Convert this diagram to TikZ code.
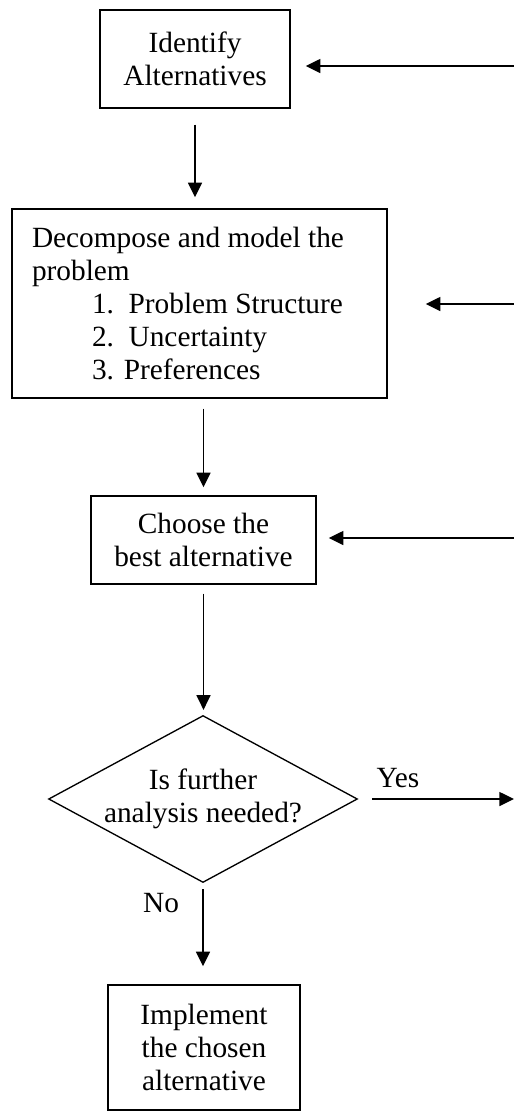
\documentclass[tikz,border=0pt]{standalone}
\usepackage{fontspec}
\setmainfont{Liberation Serif}
\usetikzlibrary{shapes.geometric,arrows.meta}
\begin{document}
\begin{tikzpicture}
    [%%%%%%%%%%%%%%%%%%%%%%%%%%%%%%
        x=0.75pt, y=-0.75pt,
        box/.style={rectangle, draw=black, line width=1.1pt, align=center, inner sep=0pt,
            font=\fontsize{22pt}{24.75pt}\selectfont},
        decision/.style={diamond, draw=black, line width=1pt, shape aspect=1.85, inner sep=0pt,
            align=center, font=\fontsize{22pt}{24.75pt}\selectfont},
        flow/.style={-{Triangle[length=11pt,width=10.5pt]}, line width=1.1pt},
        tag/.style={inner sep=0pt, font=\fontsize{22pt}{24.75pt}\selectfont},
    ]%%%%%%%%%%%%%%%%%%%%%%%%%%%%%%
    \useasboundingbox (0,0) rectangle (514,1111);

    \node[box, minimum width=142.5pt, minimum height=73.5pt] (identify) at (195,59) {Identify\\Alternatives};
    \node[box, text width=251.25pt, inner xsep=15pt, minimum height=141.75pt, align=flush left] (model) at (199.5,303.5)
        {Decompose and model the\\problem\\
         \hspace*{45pt}1.\ \ Problem Structure\\
         \hspace*{45pt}2.\ \ Uncertainty\\
         \hspace*{45pt}3. Preferences};
    \node[box, minimum width=168.75pt, minimum height=66pt] (choose) at (203.5,540) {Choose the\\best alternative};
    \node[decision, minimum width=228.75pt, minimum height=123.75pt] (further) at (203,799) {Is further\\analysis needed?};
    \node[box, minimum width=144pt, minimum height=93.75pt] (implement) at (204,1047.5) {Implement\\the chosen\\alternative};

    \coordinate (back1) at (514,66);
    \coordinate (back2) at (514,304);
    \coordinate (back3) at (514,538);
    \coordinate (out) at (514,799);

    % main flow
    \draw[flow, shorten <=12pt, shorten >=8.25pt] (identify.south) -- (identify.south |- model.north);
    \draw[flow, shorten <=7.5pt, shorten >=6pt] (choose.north |- model.south) -- (choose.north);
    \draw[flow, shorten <=6.75pt, shorten >=3.75pt] (choose.south) -- (choose.south |- further.north);
    \draw[flow, shorten <=4.5pt, shorten >=13.5pt] (further.south) -- (further.south |- implement.north);

    % loops coming back from the right
    \draw[flow, shorten >=11.25pt] (back1) -- (identify.east |- back1);
    \draw[flow, shorten >=28.5pt] (back2) -- (model.east |- back2);
    \draw[flow, shorten >=9pt] (back3) -- (choose.east |- back3);
    \draw[flow, shorten <=10.5pt] (further.east) -- (out);

    \node[tag] (yes) at (398,778) {Yes};
    \node[tag] (no) at (161,903) {No};
\end{tikzpicture}
\end{document}
